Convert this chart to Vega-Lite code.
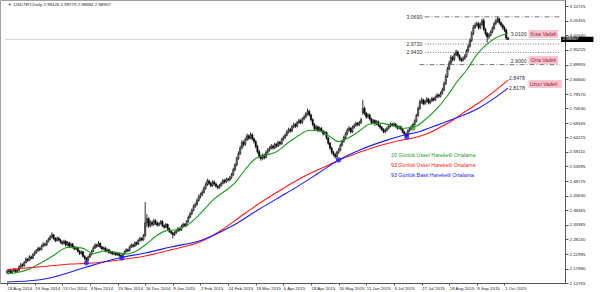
{
"$schema": "https://vega.github.io/schema/vega-lite/v6.json",
"width": 565, "height": 283,
"autosize": "none",
"padding": {"left": 0, "top": 0, "right": 35, "bottom": 9},
"background": "white",
"config": {
 "view": {"stroke": "#a0a0a0", "strokeWidth": 1},
 "font": "Liberation Sans",
 "axis": {"labelFont": "Liberation Sans", "labelColor": "#222", "domainColor": "#555", "tickColor": "#555", "grid": false, "title": null, "labelOverlap": false, "labelBound": false, "labelFlush": false, "labelFontSize": 4.4, "labelPadding": 1},
 "axisX": {"labelAlign": "left", "tickSize": 2},
 "axisY": {"tickSize": 3}
},
"resolve": {"axis": {"x": "independent", "y": "independent"}},
"datasets": {
"candles": [
{"i":0,"o":2.165,"h":2.174,"l":2.161,"c":2.168},{"i":1,"o":2.168,"h":2.177,"l":2.164,"c":2.172},{"i":2,"o":2.172,"h":2.176,"l":2.160,"c":2.165},{"i":3,"o":2.165,"h":2.174,"l":2.162,"c":2.170},{"i":4,"o":2.170,"h":2.181,"l":2.167,"c":2.175},
{"i":5,"o":2.175,"h":2.178,"l":2.163,"c":2.168},{"i":6,"o":2.168,"h":2.177,"l":2.165,"c":2.172},{"i":7,"o":2.172,"h":2.190,"l":2.170,"c":2.185},{"i":8,"o":2.185,"h":2.199,"l":2.181,"c":2.192},{"i":9,"o":2.192,"h":2.197,"l":2.183,"c":2.188},
{"i":10,"o":2.188,"h":2.205,"l":2.185,"c":2.200},{"i":11,"o":2.200,"h":2.218,"l":2.197,"c":2.212},{"i":12,"o":2.212,"h":2.216,"l":2.202,"c":2.208},{"i":13,"o":2.208,"h":2.226,"l":2.205,"c":2.220},{"i":14,"o":2.220,"h":2.224,"l":2.210,"c":2.215},
{"i":15,"o":2.215,"h":2.233,"l":2.212,"c":2.228},{"i":16,"o":2.228,"h":2.241,"l":2.224,"c":2.235},{"i":17,"o":2.235,"h":2.248,"l":2.231,"c":2.242},{"i":18,"o":2.242,"h":2.256,"l":2.238,"c":2.250},{"i":19,"o":2.250,"h":2.255,"l":2.240,"c":2.246},
{"i":20,"o":2.246,"h":2.263,"l":2.243,"c":2.258},{"i":21,"o":2.258,"h":2.272,"l":2.254,"c":2.265},{"i":22,"o":2.265,"h":2.270,"l":2.256,"c":2.262},{"i":23,"o":2.262,"h":2.280,"l":2.259,"c":2.275},{"i":24,"o":2.275,"h":2.288,"l":2.271,"c":2.282},
{"i":25,"o":2.282,"h":2.297,"l":2.278,"c":2.290},{"i":26,"o":2.290,"h":2.307,"l":2.286,"c":2.298},{"i":27,"o":2.298,"h":2.301,"l":2.280,"c":2.285},{"i":28,"o":2.285,"h":2.290,"l":2.272,"c":2.278},{"i":29,"o":2.278,"h":2.292,"l":2.274,"c":2.286},
{"i":30,"o":2.286,"h":2.291,"l":2.275,"c":2.280},{"i":31,"o":2.280,"h":2.284,"l":2.267,"c":2.272},{"i":32,"o":2.272,"h":2.278,"l":2.262,"c":2.268},{"i":33,"o":2.268,"h":2.281,"l":2.264,"c":2.275},{"i":34,"o":2.275,"h":2.279,"l":2.257,"c":2.262},
{"i":35,"o":2.262,"h":2.276,"l":2.258,"c":2.270},{"i":36,"o":2.270,"h":2.274,"l":2.253,"c":2.258},{"i":37,"o":2.258,"h":2.271,"l":2.254,"c":2.265},{"i":38,"o":2.265,"h":2.269,"l":2.250,"c":2.255},{"i":39,"o":2.255,"h":2.259,"l":2.243,"c":2.248},
{"i":40,"o":2.248,"h":2.258,"l":2.244,"c":2.252},{"i":41,"o":2.252,"h":2.256,"l":2.236,"c":2.240},{"i":42,"o":2.240,"h":2.244,"l":2.227,"c":2.232},{"i":43,"o":2.232,"h":2.243,"l":2.228,"c":2.238},{"i":44,"o":2.238,"h":2.241,"l":2.218,"c":2.222},
{"i":45,"o":2.222,"h":2.226,"l":2.209,"c":2.215},{"i":46,"o":2.215,"h":2.219,"l":2.198,"c":2.208},{"i":47,"o":2.208,"h":2.225,"l":2.205,"c":2.220},{"i":48,"o":2.220,"h":2.234,"l":2.216,"c":2.228},{"i":49,"o":2.228,"h":2.245,"l":2.225,"c":2.240},
{"i":50,"o":2.240,"h":2.258,"l":2.237,"c":2.252},{"i":51,"o":2.252,"h":2.268,"l":2.248,"c":2.262},{"i":52,"o":2.262,"h":2.267,"l":2.252,"c":2.258},{"i":53,"o":2.258,"h":2.276,"l":2.255,"c":2.268},{"i":54,"o":2.268,"h":2.271,"l":2.250,"c":2.255},
{"i":55,"o":2.255,"h":2.259,"l":2.243,"c":2.248},{"i":56,"o":2.248,"h":2.257,"l":2.244,"c":2.252},{"i":57,"o":2.252,"h":2.255,"l":2.236,"c":2.240},{"i":58,"o":2.240,"h":2.250,"l":2.236,"c":2.245},{"i":59,"o":2.245,"h":2.248,"l":2.231,"c":2.235},
{"i":60,"o":2.235,"h":2.243,"l":2.230,"c":2.238},{"i":61,"o":2.238,"h":2.241,"l":2.226,"c":2.230},{"i":62,"o":2.230,"h":2.239,"l":2.226,"c":2.235},{"i":63,"o":2.235,"h":2.238,"l":2.223,"c":2.228},{"i":64,"o":2.228,"h":2.236,"l":2.224,"c":2.232},
{"i":65,"o":2.232,"h":2.235,"l":2.220,"c":2.225},{"i":66,"o":2.225,"h":2.229,"l":2.215,"c":2.222},{"i":67,"o":2.222,"h":2.234,"l":2.219,"c":2.230},{"i":68,"o":2.230,"h":2.243,"l":2.227,"c":2.238},{"i":69,"o":2.238,"h":2.250,"l":2.234,"c":2.245},
{"i":70,"o":2.245,"h":2.250,"l":2.237,"c":2.242},{"i":71,"o":2.242,"h":2.260,"l":2.239,"c":2.255},{"i":72,"o":2.255,"h":2.268,"l":2.251,"c":2.262},{"i":73,"o":2.262,"h":2.266,"l":2.252,"c":2.258},{"i":74,"o":2.258,"h":2.275,"l":2.255,"c":2.270},
{"i":75,"o":2.270,"h":2.274,"l":2.260,"c":2.265},{"i":76,"o":2.265,"h":2.283,"l":2.262,"c":2.278},{"i":77,"o":2.278,"h":2.291,"l":2.274,"c":2.285},{"i":78,"o":2.285,"h":2.290,"l":2.275,"c":2.280},{"i":79,"o":2.280,"h":2.301,"l":2.277,"c":2.295},
{"i":80,"o":2.295,"h":2.414,"l":2.290,"c":2.340},{"i":81,"o":2.340,"h":2.372,"l":2.325,"c":2.355},{"i":82,"o":2.355,"h":2.360,"l":2.322,"c":2.330},{"i":83,"o":2.330,"h":2.350,"l":2.325,"c":2.342},{"i":84,"o":2.342,"h":2.348,"l":2.328,"c":2.335},
{"i":85,"o":2.335,"h":2.355,"l":2.330,"c":2.348},{"i":86,"o":2.348,"h":2.353,"l":2.333,"c":2.340},{"i":87,"o":2.340,"h":2.345,"l":2.327,"c":2.332},{"i":88,"o":2.332,"h":2.343,"l":2.328,"c":2.338},{"i":89,"o":2.338,"h":2.350,"l":2.334,"c":2.345},
{"i":90,"o":2.345,"h":2.349,"l":2.326,"c":2.330},{"i":91,"o":2.330,"h":2.335,"l":2.319,"c":2.325},{"i":92,"o":2.325,"h":2.340,"l":2.321,"c":2.335},{"i":93,"o":2.335,"h":2.338,"l":2.315,"c":2.320},{"i":94,"o":2.320,"h":2.324,"l":2.305,"c":2.310},
{"i":95,"o":2.310,"h":2.315,"l":2.299,"c":2.305},{"i":96,"o":2.305,"h":2.309,"l":2.285,"c":2.298},{"i":97,"o":2.298,"h":2.311,"l":2.294,"c":2.305},{"i":98,"o":2.305,"h":2.318,"l":2.301,"c":2.312},{"i":99,"o":2.312,"h":2.326,"l":2.308,"c":2.320},
{"i":100,"o":2.320,"h":2.324,"l":2.310,"c":2.315},{"i":101,"o":2.315,"h":2.334,"l":2.312,"c":2.328},{"i":102,"o":2.328,"h":2.341,"l":2.324,"c":2.335},{"i":103,"o":2.335,"h":2.340,"l":2.325,"c":2.330},{"i":104,"o":2.330,"h":2.350,"l":2.327,"c":2.345},
{"i":105,"o":2.345,"h":2.366,"l":2.341,"c":2.360},{"i":106,"o":2.360,"h":2.379,"l":2.356,"c":2.372},{"i":107,"o":2.372,"h":2.391,"l":2.368,"c":2.385},{"i":108,"o":2.385,"h":2.405,"l":2.381,"c":2.398},{"i":109,"o":2.398,"h":2.412,"l":2.393,"c":2.405},
{"i":110,"o":2.405,"h":2.427,"l":2.401,"c":2.420},{"i":111,"o":2.420,"h":2.440,"l":2.415,"c":2.432},{"i":112,"o":2.432,"h":2.447,"l":2.427,"c":2.440},{"i":113,"o":2.440,"h":2.456,"l":2.435,"c":2.448},{"i":114,"o":2.448,"h":2.470,"l":2.444,"c":2.462},
{"i":115,"o":2.462,"h":2.483,"l":2.458,"c":2.475},{"i":116,"o":2.475,"h":2.497,"l":2.471,"c":2.488},{"i":117,"o":2.488,"h":2.494,"l":2.474,"c":2.480},{"i":118,"o":2.480,"h":2.486,"l":2.466,"c":2.472},{"i":119,"o":2.472,"h":2.491,"l":2.468,"c":2.485},
{"i":120,"o":2.485,"h":2.490,"l":2.472,"c":2.478},{"i":121,"o":2.478,"h":2.482,"l":2.464,"c":2.470},{"i":122,"o":2.470,"h":2.475,"l":2.459,"c":2.465},{"i":123,"o":2.465,"h":2.478,"l":2.461,"c":2.472},{"i":124,"o":2.472,"h":2.486,"l":2.468,"c":2.480},
{"i":125,"o":2.480,"h":2.496,"l":2.476,"c":2.490},{"i":126,"o":2.490,"h":2.495,"l":2.479,"c":2.485},{"i":127,"o":2.485,"h":2.501,"l":2.481,"c":2.495},{"i":128,"o":2.495,"h":2.500,"l":2.486,"c":2.492},{"i":129,"o":2.492,"h":2.506,"l":2.488,"c":2.500},
{"i":130,"o":2.500,"h":2.517,"l":2.496,"c":2.510},{"i":131,"o":2.510,"h":2.535,"l":2.506,"c":2.528},{"i":132,"o":2.528,"h":2.552,"l":2.523,"c":2.545},{"i":133,"o":2.545,"h":2.575,"l":2.541,"c":2.568},{"i":134,"o":2.568,"h":2.593,"l":2.563,"c":2.585},
{"i":135,"o":2.585,"h":2.613,"l":2.580,"c":2.605},{"i":136,"o":2.605,"h":2.633,"l":2.600,"c":2.625},{"i":137,"o":2.625,"h":2.632,"l":2.610,"c":2.618},{"i":138,"o":2.618,"h":2.642,"l":2.613,"c":2.635},{"i":139,"o":2.635,"h":2.656,"l":2.630,"c":2.648},
{"i":140,"o":2.648,"h":2.653,"l":2.633,"c":2.640},{"i":141,"o":2.640,"h":2.660,"l":2.636,"c":2.652},{"i":142,"o":2.652,"h":2.657,"l":2.632,"c":2.638},{"i":143,"o":2.638,"h":2.643,"l":2.621,"c":2.628},{"i":144,"o":2.628,"h":2.633,"l":2.604,"c":2.610},
{"i":145,"o":2.610,"h":2.616,"l":2.585,"c":2.592},{"i":146,"o":2.592,"h":2.598,"l":2.568,"c":2.575},{"i":147,"o":2.575,"h":2.582,"l":2.560,"c":2.568},{"i":148,"o":2.568,"h":2.586,"l":2.563,"c":2.580},{"i":149,"o":2.580,"h":2.585,"l":2.565,"c":2.572},
{"i":150,"o":2.572,"h":2.596,"l":2.568,"c":2.590},{"i":151,"o":2.590,"h":2.605,"l":2.585,"c":2.598},{"i":152,"o":2.598,"h":2.611,"l":2.593,"c":2.605},{"i":153,"o":2.605,"h":2.619,"l":2.600,"c":2.612},{"i":154,"o":2.612,"h":2.617,"l":2.599,"c":2.605},
{"i":155,"o":2.605,"h":2.624,"l":2.601,"c":2.618},{"i":156,"o":2.618,"h":2.623,"l":2.606,"c":2.612},{"i":157,"o":2.612,"h":2.631,"l":2.608,"c":2.625},{"i":158,"o":2.625,"h":2.630,"l":2.614,"c":2.620},{"i":159,"o":2.620,"h":2.641,"l":2.616,"c":2.635},
{"i":160,"o":2.635,"h":2.649,"l":2.630,"c":2.642},{"i":161,"o":2.642,"h":2.657,"l":2.637,"c":2.650},{"i":162,"o":2.650,"h":2.669,"l":2.646,"c":2.662},{"i":163,"o":2.662,"h":2.677,"l":2.657,"c":2.670},{"i":164,"o":2.670,"h":2.676,"l":2.659,"c":2.665},
{"i":165,"o":2.665,"h":2.686,"l":2.661,"c":2.680},{"i":166,"o":2.680,"h":2.695,"l":2.675,"c":2.688},{"i":167,"o":2.688,"h":2.693,"l":2.676,"c":2.682},{"i":168,"o":2.682,"h":2.701,"l":2.678,"c":2.695},{"i":169,"o":2.695,"h":2.709,"l":2.690,"c":2.702},
{"i":170,"o":2.702,"h":2.707,"l":2.689,"c":2.695},{"i":171,"o":2.695,"h":2.714,"l":2.691,"c":2.708},{"i":172,"o":2.708,"h":2.722,"l":2.703,"c":2.715},{"i":173,"o":2.715,"h":2.732,"l":2.711,"c":2.725},{"i":174,"o":2.725,"h":2.745,"l":2.720,"c":2.735},
{"i":175,"o":2.735,"h":2.740,"l":2.716,"c":2.722},{"i":176,"o":2.722,"h":2.727,"l":2.699,"c":2.705},{"i":177,"o":2.705,"h":2.710,"l":2.682,"c":2.688},{"i":178,"o":2.688,"h":2.693,"l":2.665,"c":2.672},{"i":179,"o":2.672,"h":2.686,"l":2.667,"c":2.680},
{"i":180,"o":2.680,"h":2.684,"l":2.662,"c":2.668},{"i":181,"o":2.668,"h":2.681,"l":2.663,"c":2.675},{"i":182,"o":2.675,"h":2.679,"l":2.660,"c":2.665},{"i":183,"o":2.665,"h":2.669,"l":2.649,"c":2.655},{"i":184,"o":2.655,"h":2.666,"l":2.650,"c":2.660},
{"i":185,"o":2.660,"h":2.664,"l":2.634,"c":2.640},{"i":186,"o":2.640,"h":2.645,"l":2.616,"c":2.622},{"i":187,"o":2.622,"h":2.627,"l":2.598,"c":2.605},{"i":188,"o":2.605,"h":2.610,"l":2.583,"c":2.590},{"i":189,"o":2.590,"h":2.595,"l":2.575,"c":2.582},
{"i":190,"o":2.582,"h":2.587,"l":2.567,"c":2.575},{"i":191,"o":2.575,"h":2.595,"l":2.562,"c":2.590},{"i":192,"o":2.590,"h":2.605,"l":2.585,"c":2.598},{"i":193,"o":2.598,"h":2.621,"l":2.594,"c":2.615},{"i":194,"o":2.615,"h":2.635,"l":2.610,"c":2.628},
{"i":195,"o":2.628,"h":2.649,"l":2.624,"c":2.642},{"i":196,"o":2.642,"h":2.662,"l":2.637,"c":2.655},{"i":197,"o":2.655,"h":2.675,"l":2.650,"c":2.668},{"i":198,"o":2.668,"h":2.683,"l":2.663,"c":2.675},{"i":199,"o":2.675,"h":2.679,"l":2.656,"c":2.662},
{"i":200,"o":2.662,"h":2.684,"l":2.658,"c":2.678},{"i":201,"o":2.678,"h":2.692,"l":2.673,"c":2.685},{"i":202,"o":2.685,"h":2.699,"l":2.680,"c":2.692},{"i":203,"o":2.692,"h":2.697,"l":2.682,"c":2.688},{"i":204,"o":2.688,"h":2.701,"l":2.683,"c":2.695},
{"i":205,"o":2.695,"h":2.712,"l":2.690,"c":2.705},{"i":206,"o":2.730,"h":2.775,"l":2.722,"c":2.745},{"i":207,"o":2.745,"h":2.752,"l":2.720,"c":2.728},{"i":208,"o":2.728,"h":2.733,"l":2.708,"c":2.715},{"i":209,"o":2.715,"h":2.729,"l":2.710,"c":2.722},
{"i":210,"o":2.722,"h":2.726,"l":2.702,"c":2.708},{"i":211,"o":2.708,"h":2.712,"l":2.689,"c":2.695},{"i":212,"o":2.695,"h":2.708,"l":2.690,"c":2.702},{"i":213,"o":2.702,"h":2.706,"l":2.684,"c":2.690},{"i":214,"o":2.690,"h":2.704,"l":2.686,"c":2.698},
{"i":215,"o":2.698,"h":2.702,"l":2.680,"c":2.685},{"i":216,"o":2.685,"h":2.690,"l":2.672,"c":2.678},{"i":217,"o":2.678,"h":2.683,"l":2.665,"c":2.670},{"i":218,"o":2.670,"h":2.675,"l":2.657,"c":2.662},{"i":219,"o":2.662,"h":2.674,"l":2.657,"c":2.668},
{"i":220,"o":2.668,"h":2.681,"l":2.664,"c":2.675},{"i":221,"o":2.675,"h":2.688,"l":2.671,"c":2.682},{"i":222,"o":2.682,"h":2.696,"l":2.678,"c":2.690},{"i":223,"o":2.690,"h":2.694,"l":2.680,"c":2.685},{"i":224,"o":2.685,"h":2.696,"l":2.681,"c":2.690},
{"i":225,"o":2.690,"h":2.694,"l":2.677,"c":2.682},{"i":226,"o":2.682,"h":2.686,"l":2.670,"c":2.675},{"i":227,"o":2.675,"h":2.685,"l":2.671,"c":2.680},{"i":228,"o":2.680,"h":2.684,"l":2.667,"c":2.672},{"i":229,"o":2.672,"h":2.676,"l":2.657,"c":2.662},
{"i":230,"o":2.662,"h":2.666,"l":2.649,"c":2.655},{"i":231,"o":2.655,"h":2.659,"l":2.640,"c":2.648},{"i":232,"o":2.648,"h":2.670,"l":2.645,"c":2.665},{"i":233,"o":2.665,"h":2.678,"l":2.661,"c":2.672},{"i":234,"o":2.672,"h":2.686,"l":2.668,"c":2.680},
{"i":235,"o":2.680,"h":2.694,"l":2.676,"c":2.688},{"i":236,"o":2.688,"h":2.706,"l":2.684,"c":2.700},{"i":237,"o":2.700,"h":2.726,"l":2.696,"c":2.720},{"i":238,"o":2.720,"h":2.752,"l":2.716,"c":2.745},{"i":239,"o":2.745,"h":2.776,"l":2.740,"c":2.768},
{"i":240,"o":2.768,"h":2.783,"l":2.762,"c":2.775},{"i":241,"o":2.775,"h":2.780,"l":2.756,"c":2.762},{"i":242,"o":2.762,"h":2.776,"l":2.757,"c":2.770},{"i":243,"o":2.770,"h":2.785,"l":2.765,"c":2.778},{"i":244,"o":2.778,"h":2.782,"l":2.759,"c":2.765},
{"i":245,"o":2.765,"h":2.778,"l":2.760,"c":2.772},{"i":246,"o":2.772,"h":2.786,"l":2.768,"c":2.780},{"i":247,"o":2.780,"h":2.784,"l":2.769,"c":2.775},{"i":248,"o":2.775,"h":2.791,"l":2.771,"c":2.785},{"i":249,"o":2.785,"h":2.799,"l":2.781,"c":2.792},
{"i":250,"o":2.792,"h":2.797,"l":2.782,"c":2.788},{"i":251,"o":2.788,"h":2.805,"l":2.784,"c":2.798},{"i":252,"o":2.798,"h":2.818,"l":2.794,"c":2.810},{"i":253,"o":2.810,"h":2.840,"l":2.806,"c":2.832},{"i":254,"o":2.832,"h":2.866,"l":2.828,"c":2.858},
{"i":255,"o":2.858,"h":2.893,"l":2.853,"c":2.885},{"i":256,"o":2.885,"h":2.914,"l":2.880,"c":2.905},{"i":257,"o":2.905,"h":2.934,"l":2.900,"c":2.925},{"i":258,"o":2.925,"h":2.931,"l":2.910,"c":2.918},{"i":259,"o":2.918,"h":2.942,"l":2.913,"c":2.935},
{"i":260,"o":2.935,"h":2.953,"l":2.930,"c":2.945},{"i":261,"o":2.945,"h":2.950,"l":2.925,"c":2.932},{"i":262,"o":2.932,"h":2.937,"l":2.913,"c":2.920},{"i":263,"o":2.920,"h":2.926,"l":2.908,"c":2.915},{"i":264,"o":2.915,"h":2.929,"l":2.910,"c":2.922},
{"i":265,"o":2.922,"h":2.937,"l":2.917,"c":2.930},{"i":266,"o":2.930,"h":2.955,"l":2.925,"c":2.948},{"i":267,"o":2.948,"h":2.972,"l":2.943,"c":2.965},{"i":268,"o":2.965,"h":2.993,"l":2.960,"c":2.985},{"i":269,"o":2.985,"h":3.018,"l":2.980,"c":3.010},
{"i":270,"o":3.010,"h":3.040,"l":3.004,"c":3.032},{"i":271,"o":3.032,"h":3.048,"l":3.026,"c":3.040},{"i":272,"o":3.040,"h":3.053,"l":3.034,"c":3.045},{"i":273,"o":3.045,"h":3.050,"l":3.024,"c":3.030},{"i":274,"o":3.030,"h":3.049,"l":3.025,"c":3.042},
{"i":275,"o":3.042,"h":3.062,"l":3.037,"c":3.055},{"i":276,"o":3.055,"h":3.064,"l":3.019,"c":3.025},{"i":277,"o":3.025,"h":3.030,"l":3.003,"c":3.010},{"i":278,"o":3.010,"h":3.015,"l":2.978,"c":2.998},{"i":279,"o":2.998,"h":3.012,"l":2.990,"c":3.005},
{"i":280,"o":3.005,"h":3.022,"l":3.000,"c":3.015},{"i":281,"o":3.015,"h":3.035,"l":3.010,"c":3.028},{"i":282,"o":3.028,"h":3.052,"l":3.023,"c":3.045},{"i":283,"o":3.045,"h":3.062,"l":3.040,"c":3.055},{"i":284,"o":3.055,"h":3.069,"l":3.048,"c":3.062},
{"i":285,"o":3.062,"h":3.066,"l":3.042,"c":3.048},{"i":286,"o":3.048,"h":3.053,"l":3.033,"c":3.040},{"i":287,"o":3.040,"h":3.045,"l":3.024,"c":3.030},{"i":288,"o":3.030,"h":3.036,"l":3.015,"c":3.022},{"i":289,"o":3.022,"h":3.027,"l":2.988,"c":2.994},
{"i":290,"o":2.99426,"h":2.99779,"l":2.98884,"c":2.98907}
],
"ma": [
{"s":"g","i":0,"v":2.160},{"s":"g","i":6,"v":2.165},{"s":"g","i":12,"v":2.175},{"s":"g","i":20,"v":2.200},{"s":"g","i":27,"v":2.225},{"s":"g","i":35,"v":2.253},{"s":"g","i":43,"v":2.252},{"s":"g","i":50,"v":2.232},{"s":"g","i":56,"v":2.240},{"s":"g","i":63,"v":2.236},{"s":"g","i":69,"v":2.230},{"s":"g","i":74,"v":2.238},{"s":"g","i":80,"v":2.262},{"s":"g","i":86,"v":2.292},{"s":"g","i":92,"v":2.312},{"s":"g","i":98,"v":2.316},{"s":"g","i":105,"v":2.335},{"s":"g","i":113,"v":2.380},{"s":"g","i":120,"v":2.425},{"s":"g","i":126,"v":2.452},{"s":"g","i":132,"v":2.482},{"s":"g","i":138,"v":2.530},{"s":"g","i":144,"v":2.568},{"s":"g","i":150,"v":2.580},{"s":"g","i":156,"v":2.592},{"s":"g","i":162,"v":2.620},{"s":"g","i":169,"v":2.650},{"s":"g","i":175,"v":2.668},{"s":"g","i":181,"v":2.665},{"s":"g","i":187,"v":2.645},{"s":"g","i":192,"v":2.628},{"s":"g","i":198,"v":2.642},{"s":"g","i":204,"v":2.665},{"s":"g","i":210,"v":2.690},{"s":"g","i":216,"v":2.693},{"s":"g","i":222,"v":2.686},{"s":"g","i":230,"v":2.675},{"s":"g","i":236,"v":2.680},{"s":"g","i":242,"v":2.705},{"s":"g","i":249,"v":2.745},{"s":"g","i":255,"v":2.790},{"s":"g","i":260,"v":2.835},{"s":"g","i":266,"v":2.880},{"s":"g","i":272,"v":2.935},{"s":"g","i":276,"v":2.962},{"s":"g","i":283,"v":2.995},{"s":"g","i":290,"v":3.010},
{"s":"r","i":0,"v":2.175},{"s":"r","i":18,"v":2.184},{"s":"r","i":37,"v":2.195},{"s":"r","i":46,"v":2.197},{"s":"r","i":65,"v":2.209},{"s":"r","i":80,"v":2.223},{"s":"r","i":95,"v":2.245},{"s":"r","i":113,"v":2.276},{"s":"r","i":125,"v":2.318},{"s":"r","i":135,"v":2.362},{"s":"r","i":145,"v":2.405},{"s":"r","i":158,"v":2.455},{"s":"r","i":170,"v":2.498},{"s":"r","i":180,"v":2.528},{"s":"r","i":188,"v":2.550},{"s":"r","i":196,"v":2.572},{"s":"r","i":204,"v":2.590},{"s":"r","i":215,"v":2.612},{"s":"r","i":226,"v":2.630},{"s":"r","i":238,"v":2.645},{"s":"r","i":245,"v":2.660},{"s":"r","i":251,"v":2.679},{"s":"r","i":258,"v":2.703},{"s":"r","i":264,"v":2.729},{"s":"r","i":273,"v":2.764},{"s":"r","i":283,"v":2.810},{"s":"r","i":290,"v":2.845},
{"s":"b","i":0,"v":2.131},{"s":"b","i":18,"v":2.138},{"s":"b","i":29,"v":2.152},{"s":"b","i":46,"v":2.184},{"s":"b","i":65,"v":2.216},{"s":"b","i":80,"v":2.234},{"s":"b","i":95,"v":2.255},{"s":"b","i":113,"v":2.280},{"s":"b","i":130,"v":2.328},{"s":"b","i":145,"v":2.385},{"s":"b","i":158,"v":2.432},{"s":"b","i":165,"v":2.457},{"s":"b","i":180,"v":2.515},{"s":"b","i":192,"v":2.563},{"s":"b","i":205,"v":2.600},{"s":"b","i":220,"v":2.633},{"s":"b","i":230,"v":2.651},{"s":"b","i":238,"v":2.662},{"s":"b","i":249,"v":2.686},{"s":"b","i":260,"v":2.711},{"s":"b","i":273,"v":2.746},{"s":"b","i":283,"v":2.785},{"s":"b","i":290,"v":2.817}
],
"levels": [
{"p":3.069,"a":241.7,"b":320.14,"k":"dd"},
{"p":2.973,"a":242.2,"b":320.14,"k":"dot"},
{"p":2.943,"a":242.2,"b":320.14,"k":"dot"},
{"p":2.900,"a":238.8,"b":320.14,"k":"dd"}
],
"boxes": [
{"a":301.9,"b":319.0,"p1":3.0223,"p2":2.9943,"m":3.0083,"t":"Kısa Vadeli"},
{"a":301.9,"b":319.0,"p1":2.9303,"p2":2.9023,"m":2.9163,"t":"Orta Vadeli"},
{"a":301.9,"b":321.2,"p1":2.8455,"p2":2.8175,"m":2.8315,"t":"Uzun Vadeli"}
],
"dots": [
{"i":46,"p":2.199,"k":"b"},{"i":66.5,"p":2.216,"k":"b"},{"i":192,"p":2.563,"k":"b"},{"i":231.4,"p":2.644,"k":"b"},{"i":235,"p":2.676,"k":"p"}
]
},
"layer": [
{
 "data": {"values": [{"p": 2.98907, "a": -1.137, "b": 320.14}]},
 "mark": {"type": "rule", "color": "#c4c4c4", "strokeWidth": 0.8},
 "encoding": {
  "x": {"field": "a", "type": "quantitative", "title": null,
   "scale": {"domain": [-1.137, 320.14], "nice": false, "zero": false},
   "axis": {"values": [0,16,32,48,64,80,96,112,128,144,160,176,192,208,224,240,256,272,288],
    "labelExpr": "['28 Aug 2014','19 Sep 2014','13 Oct 2014','3 Nov 2014','25 Nov 2014','16 Dec 2014','9 Jan 2015','2 Feb 2015','24 Feb 2015','18 Mar 2015','6 Apr 2015','28 Apr 2015','20 May 2015','11 Jun 2015','3 Jul 2015','27 Jul 2015','18 Aug 2015','9 Sep 2015','1 Oct 2015'][round(datum.value/16)]",
    "labelAlign": "left", "labelOverlap": false}},
  "x2": {"field": "b"},
  "y": {"field": "p", "type": "quantitative", "title": null,
   "scale": {"domain": [2.12765, 3.1285], "nice": false, "zero": false},
   "axis": {"orient": "right", "values": [3.10725,3.05455,3.0034,2.95225,2.89955,2.8484,2.7957,2.7463,2.69345,2.64225,2.5911,2.53995,2.48725,2.4363,2.38465,2.33385,2.2824,2.22995,2.1788,2.12765],
    "format": ".5f", "labelOverlap": false}}
 }
},
{
 "data": {"name": "candles"},
 "mark": {"type": "rule", "color": "#000", "strokeWidth": 0.8},
 "encoding": {
  "x": {"field": "i", "type": "quantitative", "axis": null},
  "y": {"field": "l", "type": "quantitative", "axis": null},
  "y2": {"field": "h"}
 }
},
{
 "data": {"name": "candles"},
 "mark": {"type": "bar", "size": 1.3, "stroke": "#000", "strokeWidth": 0.5},
 "encoding": {
  "x": {"field": "i", "type": "quantitative", "axis": null},
  "y": {"field": "o", "type": "quantitative", "axis": null},
  "y2": {"field": "c"},
  "fill": {"condition": {"test": "datum.c >= datum.o", "value": "#8a8a8a"}, "value": "#000000"}
 }
},
{
 "data": {"name": "ma"},
 "mark": {"type": "line", "strokeWidth": 1.1, "interpolate": "monotone"},
 "encoding": {
  "x": {"field": "i", "type": "quantitative", "axis": null},
  "y": {"field": "v", "type": "quantitative", "axis": null},
  "detail": {"field": "s"},
  "color": {"field": "s", "type": "nominal", "legend": null, "scale": {"domain": ["g","r","b"], "range": ["#1f9a1f","#ff1a1a","#1a1aff"]}}
 }
},
{
 "data": {"name": "dots"},
 "mark": {"type": "point", "filled": true, "size": 26, "opacity": 0.75},
 "encoding": {
  "x": {"field": "i", "type": "quantitative", "axis": null},
  "y": {"field": "p", "type": "quantitative", "axis": null},
  "color": {"field": "k", "type": "nominal", "legend": null, "scale": {"domain": ["b","p"], "range": ["#3d7fe0","#f08a8a"]}}
 }
},
{
 "data": {"name": "levels"},
 "mark": {"type": "rule", "color": "#555", "strokeWidth": 0.8},
 "encoding": {
  "x": {"field": "a", "type": "quantitative", "axis": null},
  "x2": {"field": "b"},
  "y": {"field": "p", "type": "quantitative", "axis": null},
  "strokeDash": {"field": "k", "type": "nominal", "legend": null, "scale": {"domain": ["dd","dot"], "range": [[5,2,1,2],[1,1.5]]}}
 }
},
{
 "data": {"values": [{"i": 241.0, "p": 3.069, "t": "3.0690"}, {"i": 241.0, "p": 2.973, "t": "2.9730"}, {"i": 241.0, "p": 2.943, "t": "2.9430"}]},
 "mark": {"type": "text", "align": "right", "baseline": "middle", "fontSize": 5.2, "color": "#333", "dx": -1},
 "encoding": {
  "x": {"field": "i", "type": "quantitative", "axis": null},
  "y": {"field": "p", "type": "quantitative", "axis": null},
  "text": {"field": "t"}
 }
},
{
 "data": {"values": [{"i": 291.6, "p": 3.009, "t": "3.0100"}, {"i": 291.6, "p": 2.914, "t": "2.9000"}, {"i": 290.6, "p": 2.852, "t": "2.8478"}, {"i": 290.6, "p": 2.8175, "t": "2.8178"}]},
 "mark": {"type": "text", "align": "left", "baseline": "middle", "fontSize": 5.2, "color": "#333"},
 "encoding": {
  "x": {"field": "i", "type": "quantitative", "axis": null},
  "y": {"field": "p", "type": "quantitative", "axis": null},
  "text": {"field": "t"}
 }
},
{
 "data": {"name": "boxes"},
 "mark": {"type": "rect", "color": "#f7c3cd"},
 "encoding": {
  "x": {"field": "a", "type": "quantitative", "axis": null},
  "x2": {"field": "b"},
  "y": {"field": "p1", "type": "quantitative", "axis": null},
  "y2": {"field": "p2"}
 }
},
{
 "data": {"name": "boxes"},
 "mark": {"type": "text", "align": "center", "baseline": "middle", "fontSize": 5.2, "color": "#9a2a3a"},
 "encoding": {
  "x": {"field": "a", "type": "quantitative", "axis": null},
  "y": {"field": "m", "type": "quantitative", "axis": null},
  "text": {"field": "t"},
  "xOffset": {"value": 15}
 }
},
{
 "data": {"values": [{"i": 222.3, "p": 2.5804, "t": "20 Günlük Üssel Hareketli Ortalama", "k": "g"}, {"i": 222.3, "p": 2.545, "t": "93 Günlük Üssel Hareketli Ortalama", "k": "r"}, {"i": 222.3, "p": 2.5097, "t": "93 Günlük Basit Hareketli Ortalama", "k": "b"}]},
 "mark": {"type": "text", "align": "left", "baseline": "middle", "fontSize": 5.3},
 "encoding": {
  "x": {"field": "i", "type": "quantitative", "axis": null},
  "y": {"field": "p", "type": "quantitative", "axis": null},
  "text": {"field": "t"},
  "color": {"field": "k", "type": "nominal", "legend": null, "scale": {"domain": ["g","r","b"], "range": ["#1f9a1f","#ff1a1a","#1a1aff"]}}
 }
},
{
 "data": {"values": [{"a": 320.8, "b": 339.5, "p1": 2.9981, "p2": 2.9800, "m": 2.98907, "t": "2.98907"}]},
 "mark": {"type": "rect", "color": "#000", "clip": false},
 "encoding": {"x": {"field": "a", "type": "quantitative", "axis": null}, "x2": {"field": "b"}, "y": {"field": "p1", "type": "quantitative", "axis": null}, "y2": {"field": "p2"}}
},
{
 "data": {"values": [{"a": 320.8, "m": 2.98907, "t": "2.98907"}]},
 "mark": {"type": "text", "align": "left", "baseline": "middle", "fontSize": 4.4, "color": "#fff", "dx": 1.5, "clip": false},
 "encoding": {"x": {"field": "a", "type": "quantitative", "axis": null}, "y": {"field": "m", "type": "quantitative", "axis": null}, "text": {"field": "t"}}
},
{
 "data": {"values": [{"i": 4.0, "p": 3.1115, "t": "USDTRY,Daily  2.99426 2.99779 2.98884 2.98907"}]},
 "mark": {"type": "text", "align": "left", "baseline": "middle", "fontSize": 4.4, "color": "#222"},
 "encoding": {
  "x": {"field": "i", "type": "quantitative", "axis": null},
  "y": {"field": "p", "type": "quantitative", "axis": null},
  "text": {"field": "t"}
 }
},
{
 "data": {"values": [{"i": 1.6, "p": 3.1115}]},
 "mark": {"type": "point", "shape": "triangle-down", "filled": true, "size": 7, "color": "#000"},
 "encoding": {
  "x": {"field": "i", "type": "quantitative", "axis": null},
  "y": {"field": "p", "type": "quantitative", "axis": null}
 }
}
]
}
